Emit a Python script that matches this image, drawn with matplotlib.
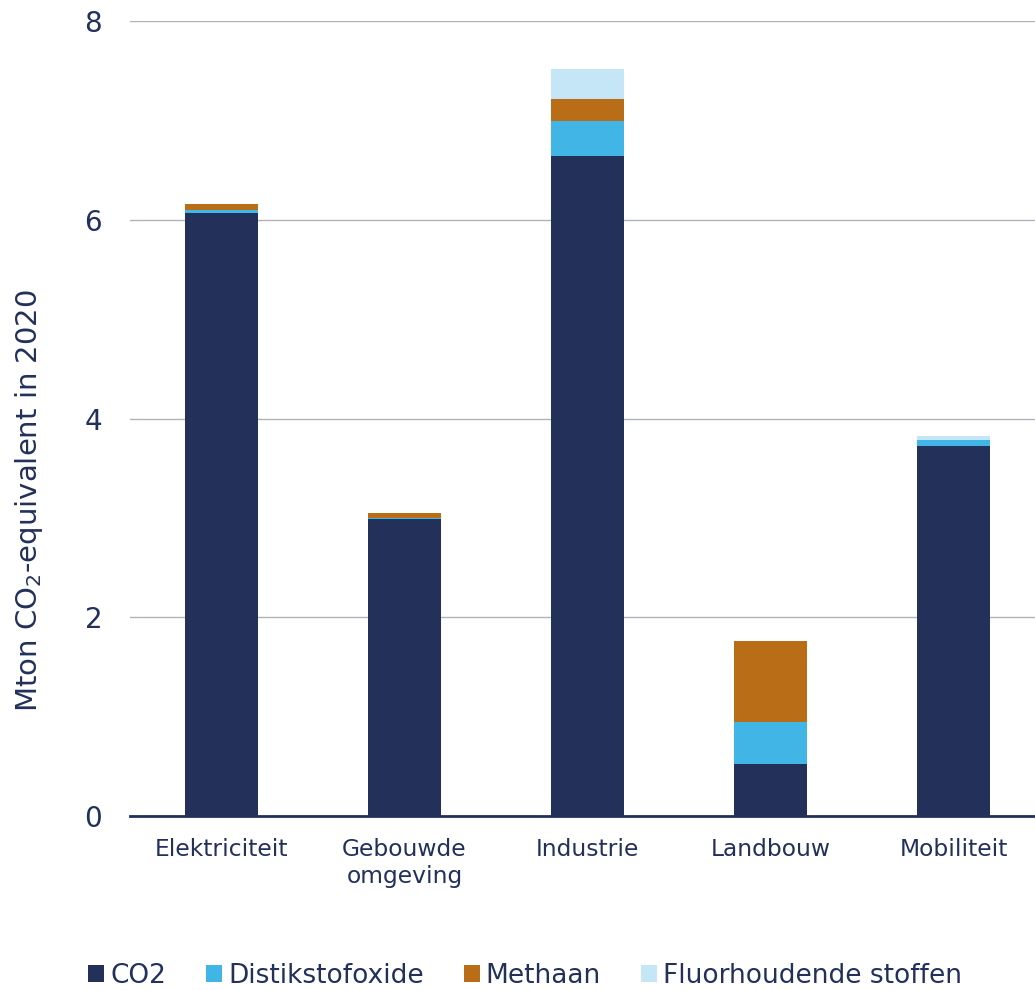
import matplotlib
matplotlib.use("Agg")
import matplotlib.pyplot as plt
import numpy as np
from matplotlib.patches import Patch

categories = ["Elektriciteit", "Gebouwde\nomgeving", "Industrie", "Landbouw", "Mobiliteit"]
co2 = [6.07, 2.99, 6.64, 0.52, 3.72]
n2o = [0.03, 0.01, 0.35, 0.43, 0.06]
ch4 = [0.06, 0.05, 0.23, 0.81, 0.00]
fgas = [0.00, 0.00, 0.30, 0.00, 0.04]
series_names = ["CO2", "Distikstofoxide", "Methaan", "Fluorhoudende stoffen"]
colors = ["#22305A", "#41B6E6", "#BA6D17", "#C5E6F7"]
yticks = [0, 2, 4, 6, 8]

txt = "#22305A"
plt.rcParams['font.family'] = ['DejaVu Sans']

fig = plt.figure(figsize=(10.35, 9.9), dpi=100)
ax = fig.add_axes([130/1035, (990-816)/990, 1 - 130/1035, (816-21)/990])

x = np.arange(len(categories))
bottom = np.zeros(len(categories))
for vals, c in zip([co2, n2o, ch4, fgas], colors):
    ax.bar(x, vals, width=0.4, bottom=bottom, color=c, zorder=3)
    bottom += np.array(vals)

ax.set_ylim(0, 8)
ax.set_xlim(-0.5, 4.445)
ax.set_yticks(yticks)
ax.set_yticklabels([str(v) for v in yticks])
ax.set_xticks(x)
ax.set_xticklabels(categories, linespacing=1.2)
ax.yaxis.grid(True, color="#B0B3BA", linewidth=1, zorder=0)
for s in ["left", "right", "top"]:
    ax.spines[s].set_visible(False)
ax.spines["bottom"].set_color(txt)
ax.spines["bottom"].set_linewidth(2)
ax.spines["bottom"].set_zorder(4)
ax.tick_params(axis="y", length=0, pad=20, labelsize=20, labelcolor=txt)
ax.tick_params(axis="x", length=0, pad=16, labelsize=16.8, labelcolor=txt)
ax.set_ylabel("Mton CO$_2$-equivalent in 2020", fontsize=21, color=txt)
ax.yaxis.set_label_coords(-0.094, (816 - 501) / 795)

handles = [Patch(facecolor=c, edgecolor="none") for c in colors]
fig.legend(handles, series_names, loc="center", bbox_to_anchor=(525/1035, 1 - 976/990),
           ncol=4, frameon=False, fontsize=19, labelcolor=txt,
           handlelength=0.6, handleheight=0.6, handletextpad=0.23, columnspacing=1.52)

fig.savefig("out.png", dpi=100)
